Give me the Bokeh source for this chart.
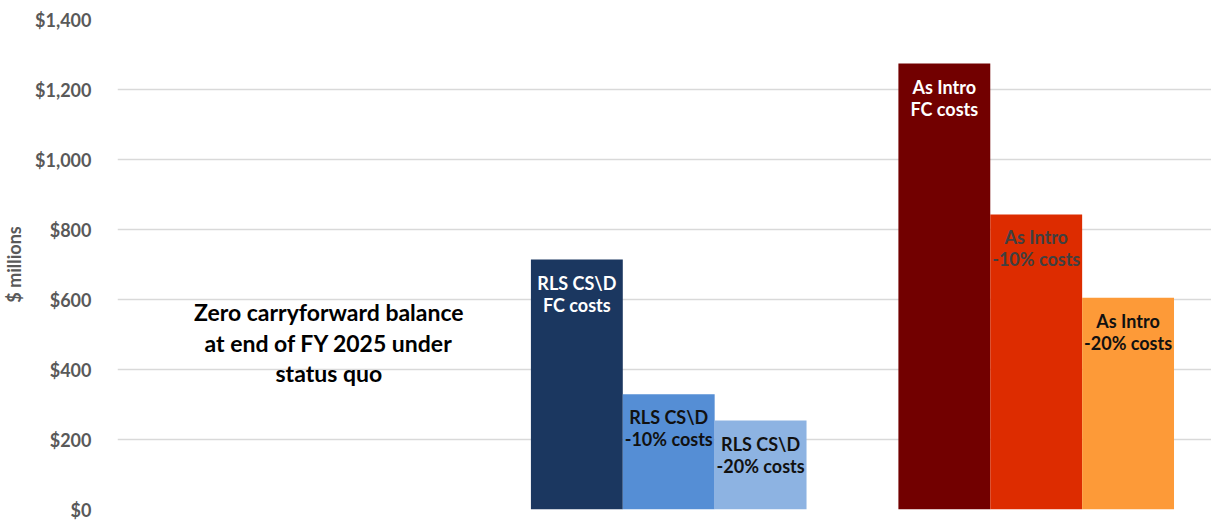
from bokeh.plotting import figure
from bokeh.models import ColumnDataSource, Range1d, NumeralTickFormatter, Label
from bokeh.core.properties import value
from bokeh.embed import file_html
from bokeh.resources import INLINE

# ---- data ----
groups = ["Status quo", "RLS CS\\D", "As Intro"]
scenarios = ["FC costs", "-10% costs", "-20% costs"]
rls_values = [714, 329, 254]
intro_values = [1274, 843, 605]
rls_colors = ["#1b3760", "#558ed5", "#8db3e2"]
intro_colors = ["#720000", "#dd2c00", "#fd9a38"]
rls_text_colors = ["#ffffff", "#111111", "#111111"]
intro_text_colors = ["#ffffff", "#404040", "#111111"]
y_ticks = [0, 200, 400, 600, 800, 1000, 1200, 1400]
note = "Zero carryforward balance\nat end of FY 2025 under\nstatus quo"

offsets = [-0.25, 0.0, 0.25]
bar_w = 0.25

xs, tops, colors, labels, tcolors = [], [], [], [], []
for gi, (vals, cols, tcols) in enumerate([(rls_values, rls_colors, rls_text_colors),
                                           (intro_values, intro_colors, intro_text_colors)], start=1):
    for si in range(3):
        xs.append(gi + 0.5 + offsets[si])
        tops.append(vals[si])
        colors.append(cols[si])
        labels.append(groups[gi] + "\n" + scenarios[si])
        tcolors.append(tcols[si])

src = ColumnDataSource(dict(x=xs, top=tops, color=colors, label=labels, tcolor=tcolors))

p = figure(width=1211, height=520, output_backend="svg", toolbar_location=None,
           x_range=Range1d(0, 2.977), y_range=Range1d(0, 1400),
           min_border_left=117, min_border_right=0, min_border_top=19, min_border_bottom=11)
p.outline_line_color = None
p.background_fill_color = "white"
p.border_fill_color = "white"

p.vbar(x="x", top="top", bottom=0, width=bar_w, color="color", source=src, line_color=None)
p.text(x="x", y="top", text="label", text_color="tcolor", source=src,
       text_align="center", text_baseline="top", y_offset=12,
       text_font=value("Lato"), text_font_style="bold", text_font_size="18px",
       text_line_height=1.0)

p.add_layout(Label(x=0.575, y=477, text=note, text_align="center", text_baseline="middle",
                   text_font="Lato", text_font_style="bold", text_font_size="23px",
                   text_color="#000000", text_line_height=1.08))

p.xaxis.visible = False
p.xgrid.visible = False
p.ygrid.grid_line_color = "#d9d9d9"
p.ygrid.grid_line_width = 1.5
p.yaxis.ticker = y_ticks
p.yaxis.formatter = NumeralTickFormatter(format="$0,0")
p.yaxis.axis_line_color = None
p.yaxis.major_tick_line_color = None
p.yaxis.minor_tick_line_color = None
p.yaxis.major_label_standoff = 20
p.yaxis.major_label_text_font = "Lato"
p.yaxis.major_label_text_font_style = "bold"
p.yaxis.major_label_text_font_size = "18px"
p.yaxis.major_label_text_color = "#595959"
p.yaxis.axis_label = "$ millions"
p.yaxis.axis_label_text_font = "Lato"
p.yaxis.axis_label_text_font_style = "bold"
p.yaxis.axis_label_text_font_size = "18px"
p.yaxis.axis_label_text_color = "#595959"
p.yaxis.axis_label_standoff = 7

open("out.html", "w").write(file_html(p, INLINE))
